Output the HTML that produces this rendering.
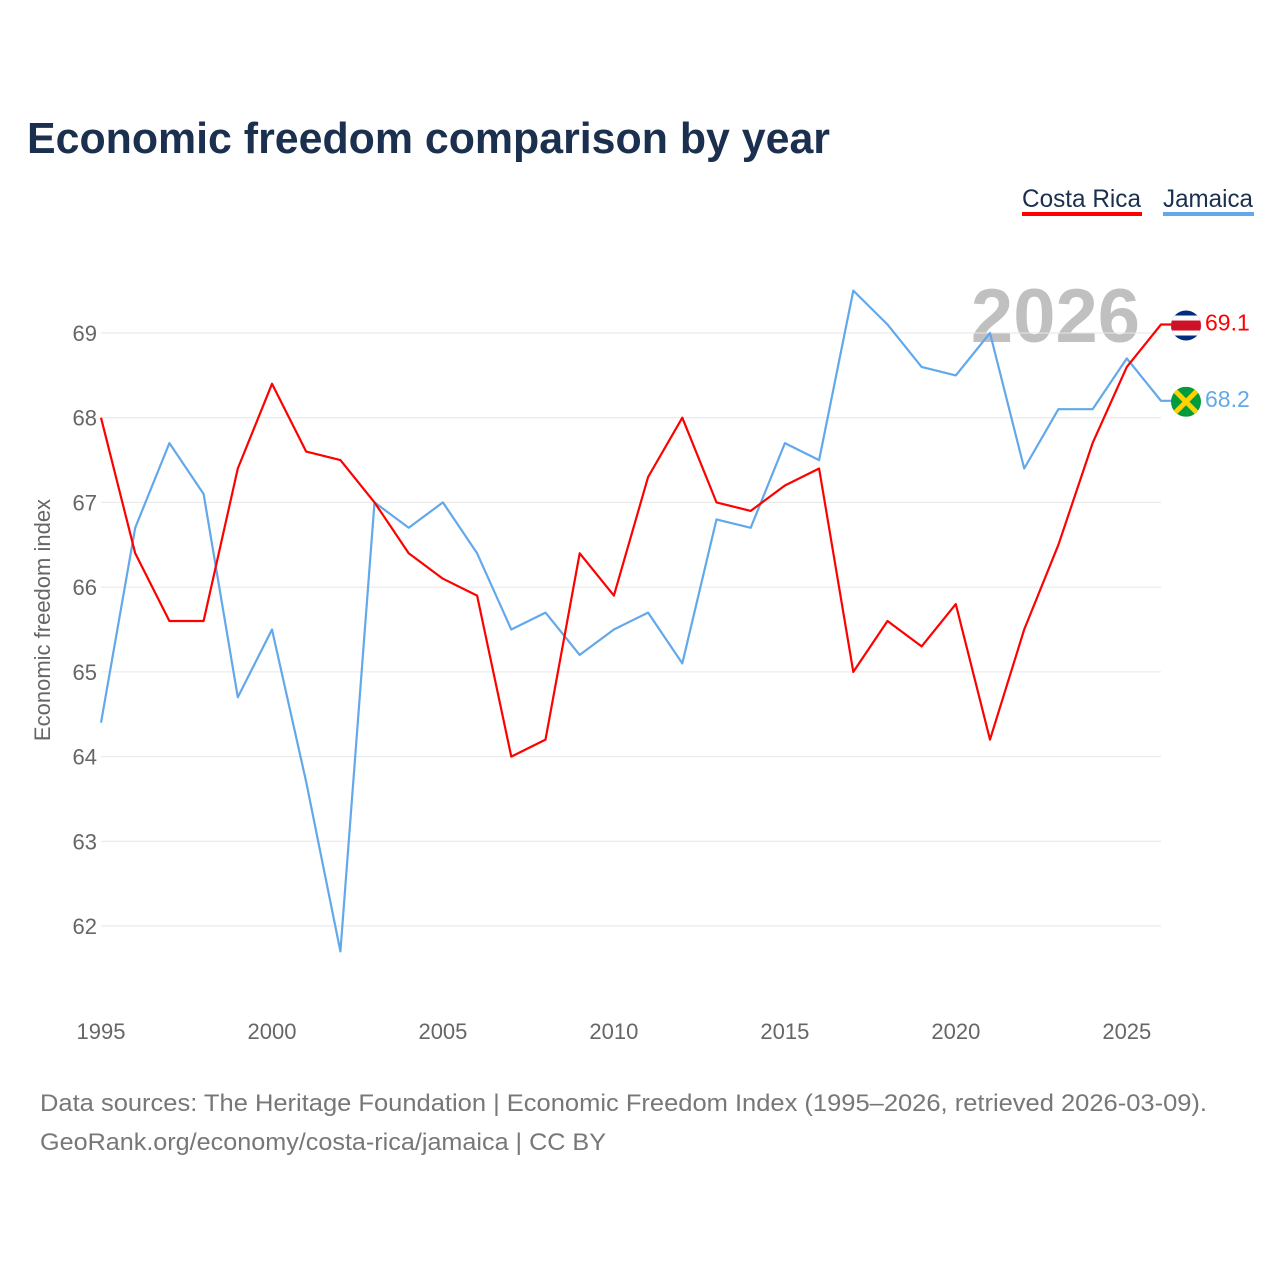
<!DOCTYPE html>
<html><head><meta charset="utf-8"><style>
html,body{margin:0;padding:0;background:#fff;}
body{width:1280px;height:1280px;position:relative;font-family:"Liberation Sans",sans-serif;}
svg{position:absolute;left:0;top:0;}
</style></head><body>
<svg id="chart" width="1280" height="1280">
<text x="27" y="153" font-size="44" font-weight="bold" fill="#1b2f4e" textLength="803" lengthAdjust="spacingAndGlyphs">Economic freedom comparison by year</text>
<g>
<text x="1022" y="207" font-size="25" fill="#1b2f4e" textLength="119" lengthAdjust="spacingAndGlyphs">Costa Rica</text>
<rect x="1022" y="212" width="120" height="4" fill="#f00"/>
<text x="1163" y="207" font-size="25" fill="#1b2f4e" textLength="90" lengthAdjust="spacingAndGlyphs">Jamaica</text>
<rect x="1163" y="212" width="91" height="4" fill="#62a8ea"/>
</g>
<text x="1140" y="342" font-size="76" font-weight="bold" fill="#c0c0c0" text-anchor="end">2026</text>
<g id="grid"></g>
<g id="series"></g>
<text transform="translate(50,620) rotate(-90)" font-size="22" fill="#666" text-anchor="middle">Economic freedom index</text>
<text x="40" y="1111" font-size="24" fill="#777" textLength="1167" lengthAdjust="spacingAndGlyphs">Data sources: The Heritage Foundation | Economic Freedom Index (1995–2026, retrieved 2026-03-09).</text>
<text x="40" y="1150" font-size="24" fill="#777" textLength="566" lengthAdjust="spacingAndGlyphs">GeoRank.org/economy/costa-rica/jamaica | CC BY</text>
</svg>
<script>
const years = [1995,1996,1997,1998,1999,2000,2001,2002,2003,2004,2005,2006,2007,2008,2009,2010,2011,2012,2013,2014,2015,2016,2017,2018,2019,2020,2021,2022,2023,2024,2025,2026];
const costaRica = [68.0,66.4,65.6,65.6,67.4,68.4,67.6,67.5,67.0,66.4,66.1,65.9,64.0,64.2,66.4,65.9,67.3,68.0,67.0,66.9,67.2,67.4,65.0,65.6,65.3,65.8,64.2,65.5,66.5,67.7,68.6,69.1];
const jamaica = [64.4,66.7,67.7,67.1,64.7,65.5,63.7,61.7,67.0,66.7,67.0,66.4,65.5,65.7,65.2,65.5,65.7,65.1,66.8,66.7,67.7,67.5,69.5,69.1,68.6,68.5,69.0,67.4,68.1,68.1,68.7,68.2];
const yTicks = [62,63,64,65,66,67,68,69];
const xTicks = [1995,2000,2005,2010,2015,2020,2025];
const NS="http://www.w3.org/2000/svg";
function xs(v){return 101+(v-1995)*(1161-101)/31;}
function ys(v){return 926-(v-62)*(926-333)/7;}
const grid=document.getElementById('grid'), ser=document.getElementById('series');
function mk(tag,attrs,parent){const e=document.createElementNS(NS,tag);for(const k in attrs)e.setAttribute(k,attrs[k]);parent.appendChild(e);return e;}
yTicks.forEach(t=>{
  const l=mk('line',{x1:101,x2:1161,y1:ys(t),y2:ys(t),stroke:'#e6e6e6','stroke-width':1},grid);
  
  
  const tx=mk('text',{x:97,y:ys(t)+8,'font-size':22,fill:'#666','text-anchor':'end'},grid);
  tx.textContent=t;
  
  
});
xTicks.forEach(t=>{
  const tx=mk('text',{x:xs(t),y:1039,'font-size':22,fill:'#666','text-anchor':'middle'},grid);
  tx.textContent=t;
  
  
});
function line(vals,color,name){
  const last=vals[vals.length-1];
  const d=vals.map((v,i)=>(i?'L':'M')+xs(years[i]).toFixed(1)+','+ys(v).toFixed(1)).join(' ')+' L1172,'+ys(last).toFixed(1);
  const p=mk('path',{d:d,fill:'none',stroke:color,'stroke-width':2.2,'stroke-linejoin':'round'},ser);
  
  
}
line(jamaica,'#62a8ea','jamaica-line');
line(costaRica,'#f00','costa-rica-line');
const crLast=costaRica[costaRica.length-1], jmLast=jamaica[jamaica.length-1];
const gcr=mk('g',{},ser);


const cy1=ys(crLast)+1;
const cp1=mk('clipPath',{id:'c1'},gcr);mk('circle',{cx:1186,cy:cy1,r:15},cp1);
const f1=mk('g',{'clip-path':'url(#c1)'},gcr);
mk('rect',{x:1171,y:cy1-15,width:30,height:30,fill:'#002b7f'},f1);
mk('rect',{x:1171,y:cy1-10,width:30,height:20,fill:'#fff'},f1);
mk('rect',{x:1171,y:cy1-5,width:30,height:10,fill:'#ce1126'},f1);
const t1=mk('text',{x:1205,y:ys(crLast)+6,'font-size':23,fill:'#f00'},ser);
t1.textContent=crLast.toFixed(1);


const gjm=mk('g',{},ser);


const cy2=ys(jmLast)+1;
const cp=mk('clipPath',{id:'c2'},gjm);mk('circle',{cx:1186,cy:cy2,r:15},cp);
const f2=mk('g',{'clip-path':'url(#c2)'},gjm);
mk('rect',{x:1171,y:cy2-15,width:30,height:30,fill:'#009b3a'},f2);
mk('polygon',{points:`1171,${cy2-15} 1186,${cy2} 1171,${cy2+15} 1201,${cy2-15} 1186,${cy2} 1201,${cy2+15}`,fill:'#000'},f2);
mk('line',{x1:1171,y1:cy2-15,x2:1201,y2:cy2+15,stroke:'#fed100','stroke-width':5},f2);
mk('line',{x1:1201,y1:cy2-15,x2:1171,y2:cy2+15,stroke:'#fed100','stroke-width':5},f2);
const t2=mk('text',{x:1205,y:ys(jmLast)+6,'font-size':23,fill:'#62a8ea'},ser);
t2.textContent=jmLast.toFixed(1);


</script>
</body></html>
